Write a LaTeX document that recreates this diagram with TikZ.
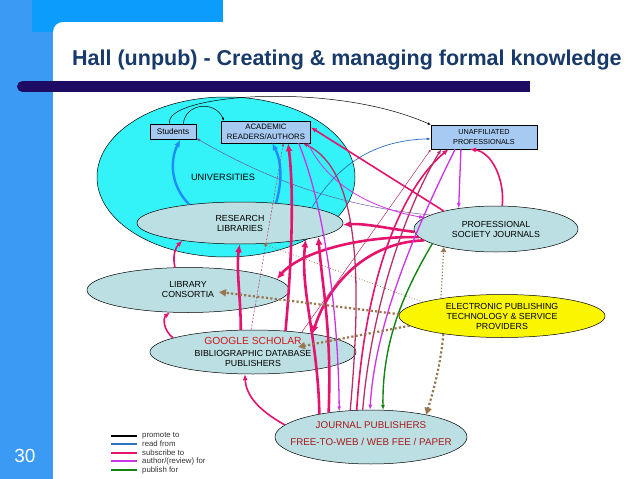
\documentclass[tikz,border=0pt]{standalone}
\usepackage{fontspec}
\setmainfont{Liberation Sans}
\usepackage{tikz}
\definecolor{hallSide}{HTML}{3B9BF4}
\definecolor{hallBand}{HTML}{0C9CFC}
\definecolor{hallTitle}{HTML}{173A6A}
\definecolor{hallBar}{HTML}{1E0B64}
\definecolor{hallCyan}{HTML}{33F3F8}
\definecolor{hallOval}{HTML}{BCDFE3}
\definecolor{hallBox}{HTML}{A6CAF2}
\definecolor{hallYellow}{HTML}{FAF500}
\definecolor{hallSub}{HTML}{E6136E}
\definecolor{hallSubDark}{HTML}{B8306A}
\definecolor{hallAuthor}{HTML}{CC33E6}
\definecolor{hallRead}{HTML}{2F6FBF}
\definecolor{hallReadBright}{HTML}{1E8CFA}
\definecolor{hallReadGrey}{HTML}{6A5C9A}
\definecolor{hallPub}{HTML}{128412}
\definecolor{hallTech}{HTML}{9A7650}
\definecolor{hallScholar}{HTML}{D01818}
\definecolor{hallJournal}{HTML}{A81A1A}
\usetikzlibrary{arrows.meta,shapes.geometric}

\begin{document}
\begin{tikzpicture}[x=1pt,y=-1pt, every node/.style={font=\fontsize{7.5}{9}\selectfont},
  unitbox/.style={draw, fill=hallBox, inner sep=0pt, align=center, line width=0.5pt},
  oval/.style={ellipse, draw, fill=hallOval, inner sep=0pt, line width=0.5pt},
  ovaltext/.style={align=center, font=\fontsize{8.8}{10}\selectfont},
  promote/.style={draw=black, line width=0.5pt, -{Latex[length=3pt,width=2.5pt]}},
  readfrom/.style={draw=hallRead, line width=0.7pt, -{Latex[length=4pt,width=3pt]}},
  readthick/.style={draw=hallReadBright, line width=2.4pt, -{Latex[length=7pt,width=6pt]}},
  subscribe/.style={draw=hallSub, line width=1.6pt, -{Latex[length=6pt,width=5pt]}},
  subthick/.style={draw=hallSub, line width=2.6pt, -{Latex[length=8pt,width=7pt]}},
  subdark/.style={draw=hallSubDark, line width=1.3pt, -{Latex[length=5pt,width=4pt]}},
  subthin/.style={draw=hallSubDark, line width=0.5pt, -{Latex[length=3pt,width=2.5pt]}},
  author/.style={draw=hallAuthor, line width=1.3pt, -{Latex[length=5pt,width=4pt]}},
  publish/.style={draw=hallPub, line width=1.4pt, -{Latex[length=5pt,width=4pt]}},
  techdot/.style={draw=hallTech, line width=2.2pt, dash pattern=on 2.2pt off 2.2pt, -{Triangle[length=7pt,width=7pt]}},
  techthin/.style={draw=hallTech, line width=1.2pt, dash pattern=on 1.2pt off 2pt, -{Triangle[length=5pt,width=5pt]}},
  techfine/.style={draw=hallTech, line width=0.8pt, dash pattern=on 0.8pt off 2pt, -{Triangle[length=4pt,width=4pt]}}]
  \useasboundingbox (0,0) rectangle (638,479);
  % slide frame
  \fill[hallSide] (0,0) rectangle (63,479);
  \fill[hallBand] (32,0) rectangle (223,32);
  \fill[white, rounded corners=10pt] (53,22) rectangle (700,520);
  \node[font=\fontsize{19}{19}\selectfont, text=white] (slideno) at (25,456) {30};
  \node[anchor=base west, inner sep=0pt, text=hallTitle, font=\fontsize{21.5}{22}\selectfont\bfseries] (title) at (72,65) {Hall (unpub) - Creating \& managing formal knowledge};
  \fill[hallBar] (22.5,81) rectangle (530,92);
  \fill[hallBar] (22.5,86.5) circle (5.5);

  % actors
  \node[ellipse, draw, fill=hallCyan, line width=0.5pt, minimum width=258pt, minimum height=160pt] (univ) at (226,177) {};
  \node[font=\fontsize{9.2}{10}\selectfont] (univlbl) at (223,177) {UNIVERSITIES};
  \node[unitbox, minimum width=46pt, minimum height=15pt, font=\fontsize{8.2}{9}\selectfont] (students) at (173,132) {Students};
  \node[unitbox, minimum width=89pt, minimum height=22pt, font=\fontsize{7.8}{9.5}\selectfont] (academic) at (266,132) {ACADEMIC\\READERS/AUTHORS};
  \node[unitbox, minimum width=106pt, minimum height=24pt, font=\fontsize{7.3}{9.5}\selectfont] (unaff) at (484,137) {UNAFFILIATED\\PROFESSIONALS};
  \node[oval, minimum width=206pt, minimum height=42pt, label={[ovaltext]center:RESEARCH\\LIBRARIES}] (reslib) at (240,223) {};
  \node[oval, minimum width=164pt, minimum height=46pt, label={[ovaltext]center:PROFESSIONAL\\SOCIETY JOURNALS}] (psj) at (496,229) {};
  \node[oval, minimum width=202pt, minimum height=45pt, label={[ovaltext]center:LIBRARY\\CONSORTIA}] (libcons) at (188,290) {};
  \node[oval, minimum width=206pt, minimum height=44pt, label={[ovaltext, font=\fontsize{8.8}{9.5}\selectfont]center:{\fontsize{10.3}{10}\selectfont\color{hallScholar}GOOGLE SCHOLAR}\\[2.5pt]BIBLIOGRAPHIC DATABASE\\PUBLISHERS}] (bibdb) at (253,352) {};
  \node[oval, fill=hallYellow, minimum width=206pt, minimum height=43pt, label={[ovaltext]center:ELECTRONIC PUBLISHING\\TECHNOLOGY \& SERVICE\\PROVIDERS}] (epub) at (502,316) {};
  \node[oval, minimum width=192pt, minimum height=54pt, label={[ovaltext, yshift=3.5pt, text=hallJournal, font=\fontsize{9.8}{17}\selectfont]center:JOURNAL PUBLISHERS\\FREE-TO-WEB / WEB FEE / PAPER}] (jpub) at (371,437) {};
  \coordinate (libconsIn) at (219,292);
  \coordinate (bibdbIn) at (298,347);

  % promote to
  \draw[promote] (students.112) .. controls (160,95) and (330,80) .. (unaff.north west);
  \draw[promote] (students.37) .. controls (185,103) and (215,100) .. (academic.165);
  % read from
  \draw[readthick] (reslib.160) .. controls (170,185) and (170,160) .. (students.-47);
  \draw[readthick] (reslib.29) .. controls (283,180) and (281,160) .. (academic.-61);
  \draw[readfrom] (reslib.12) .. controls (340,160) and (380,140) .. (unaff.182);
  \draw[readfrom, draw=hallReadGrey, line width=0.5pt] (psj.168) .. controls (330,205) and (260,175) .. (students.-15);
  % subscribe to
  \draw[subscribe] (psj.161) -- (academic.6);
  \draw[subthick] (bibdb.33) .. controls (292,260) and (294,190) .. (academic.-27);
  \draw[subthick] (bibdb.119) .. controls (241,300) and (236,270) .. (reslib.-91);
  \draw[subscribe] (libcons.120) .. controls (172,255) and (176,247) .. (reslib.197);
  \draw[subscribe] (bibdb.170) .. controls (163,330) and (163,318) .. (libcons.231);
  \draw[subscribe] (jpub.172) .. controls (258,410) and (246,395) .. (bibdb.250);
  \draw[subthick] (psj.182) .. controls (390,229) and (365,223) .. (reslib.-1);
  \draw[subthick] (psj.186) .. controls (360,236) and (300,252) .. (libcons.7);
  \draw[subthick] (psj.189) .. controls (370,242) and (330,280) .. (bibdb.17);
  \draw[subthick] (jpub.156) .. controls (318,340) and (300,290) .. (reslib.-14.5);
  \draw[subthick] (jpub.150) .. controls (332,330) and (322,285) .. (reslib.-10);
  \draw[subdark] (jpub.128) .. controls (362,280) and (360,170) .. (academic.-17);
  \draw[subscribe] (jpub.118) .. controls (365,280) and (400,190) .. (unaff.-161);
  \draw[subdark] (jpub.107) .. controls (372,300) and (410,200) .. (unaff.-164);
  \draw[subscribe] (psj.75) .. controls (505,180) and (492,152) .. (unaff.-139);
  \draw[subthin] (bibdb.22) -- (unaff.-167);
  \draw[subthin, dash pattern=on 2pt off 1.5pt] (bibdb.95) -- (academic.-33);
  % author/(review) for
  \draw[author] (academic.-19) .. controls (322,200) and (338,300) .. (jpub.141);
  \draw[author] (unaff.-157) .. controls (420,220) and (375,320) .. (jpub.92);
  \draw[author] (unaff.-152) -- (psj.151);
  \draw[author, line width=0.8pt] (academic.-15.5) .. controls (330,190) and (380,210) .. (psj.171);
  % publish for
  \draw[publish] (psj.193) .. controls (405,290) and (382,340) .. (jpub.66);
  % technology providers
  \draw[techdot] (epub.179) -- (libconsIn);
  \draw[techdot] (epub.186) -- (bibdbIn);
  \draw[techdot] (epub.197) .. controls (440,370) and (432,395) .. (jpub.22);
  \draw[techthin] (epub.164) -- (psj.199);
  \draw[techfine] (epub.170) -- (reslib.-42);

  % legend
  \foreach \ly/\lcol/\ltext [count=\li] in {436/black/promote to, 444/hallRead/read from, 453/hallSub/subscribe to, 461/hallAuthor/{author/(review) for}, 470/hallPub/publish for} {
    \draw[\lcol, line width=1.5pt] (111,\ly) -- (137,\ly);
    \node[anchor=west, inner sep=0pt, font=\fontsize{7.8}{8}\selectfont, text=black!80] (legend\li) at (142,\ly) {\ltext};
  }
\end{tikzpicture}
\end{document}
